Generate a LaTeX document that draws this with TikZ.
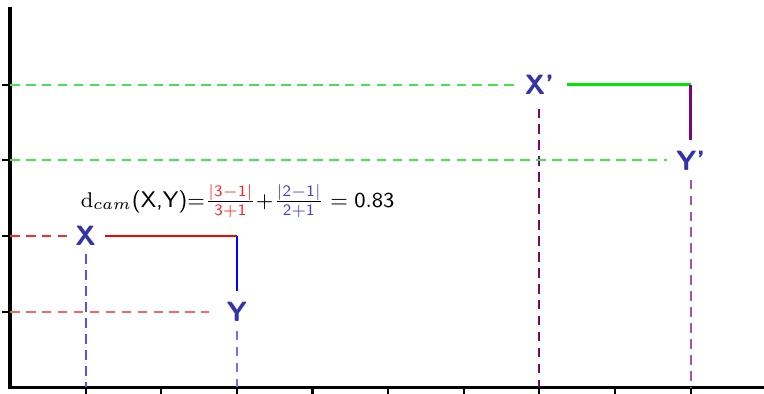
\documentclass[tikz,border=0pt]{standalone}
\usepackage{amsmath}
\definecolor{lblue}{RGB}{51,51,170}
\definecolor{guideRedA}{RGB}{255,40,40}
\definecolor{guideRedB}{RGB}{255,100,100}
\definecolor{guideBlueA}{RGB}{80,80,255}
\definecolor{guideBlueB}{RGB}{110,110,255}
\definecolor{guideGreen}{RGB}{70,230,70}
\definecolor{solidGreen}{RGB}{0,230,0}
\definecolor{purpleA}{RGB}{128,0,128}
\definecolor{purpleB}{RGB}{170,80,170}
\definecolor{fred}{RGB}{255,40,40}
\definecolor{fblue}{RGB}{70,70,200}
\begin{document}
\begin{tikzpicture}[
  lbl/.style={text=lblue,font=\fontsize{10.5}{12}\selectfont\sffamily\bfseries,inner sep=0pt},
  guide/.style={line width=0.7pt,dash pattern=on 3.6pt off 2.4pt},
  thickline/.style={line width=1pt},
  axis/.style={line width=1.2pt,line cap=rect}
]
\useasboundingbox (-0.132,-0.079) rectangle (9.97,5.12);
% axes
\coordinate (O) at (0,0);
\coordinate (ytop) at (0,5);
\coordinate (xend) at (10,0);
\draw[axis] (ytop) -- (O) -- (xend);
\foreach \i in {1,...,9} \draw[line width=0.8pt] (\i,0) -- (\i,-0.1);
\foreach \j in {1,...,4} \draw[line width=0.8pt] (0,\j) -- (-0.1,\j);
% coordinates
\coordinate (y1) at (0,1);
\coordinate (y2) at (0,2);
\coordinate (y3) at (0,3);
\coordinate (y4) at (0,4);
\coordinate (x1) at (1,0);
\coordinate (x3) at (3,0);
\coordinate (x7) at (7,0);
\coordinate (x9) at (9,0);
\coordinate (c32) at (3,2);
\coordinate (c94) at (9,4);
% labels
\node[lbl] (X) at (1,2) {X};
\node[lbl] (Y) at (3,1) {Y};
\node[lbl] (Xp) at (7,4) {X’};
\node[lbl] (Yp) at (9,3) {Y’};
% formula
\node[anchor=base west,inner sep=0pt] (F) at (0.93,2.38) {\fontsize{8.5}{10}\selectfont
$\mathrm{d}_{cam}\textsf{(X,Y)}{=}\frac{\color{fred}\mathsf{|3-1|}}{\color{fred}\mathsf{3+1}}{+}\frac{\color{fblue}\mathsf{|2-1|}}{\color{fblue}\mathsf{2+1}}=\mathsf{0.83}$};
% dashed guides
\draw[guide,color=guideRedA] (y2) -- ([xshift=-0.1cm]X.west);
\draw[guide,color=guideBlueA] ([yshift=-0.11cm]X.south) -- (x1);
\draw[guide,color=guideRedB] (y1) -- ([xshift=-0.23cm]Y.west);
\draw[guide,color=guideBlueB] ([yshift=-0.12cm]Y.south) -- (x3);
\draw[guide,color=guideGreen] (y4) -- ([xshift=-0.12cm]Xp.west);
\draw[guide,color=purpleA] ([yshift=-0.18cm]Xp.south) -- (x7);
\draw[guide,color=guideGreen] (y3) -- ([xshift=-0.12cm]Yp.west);
\draw[guide,color=purpleB] ([yshift=-0.12cm]Yp.south) -- (x9);
% solid paths
\draw[thickline,color=red] ([xshift=0.12cm]X.east) -- (c32);
\draw[thickline,color=blue] (c32) -- ([yshift=0.14cm]Y.north);
\draw[thickline,color=solidGreen] ([xshift=0.17cm]Xp.east) -- (c94);
\draw[thickline,color=purpleA] (c94) -- ([yshift=0.14cm]Yp.north);
\end{tikzpicture}
\end{document}
